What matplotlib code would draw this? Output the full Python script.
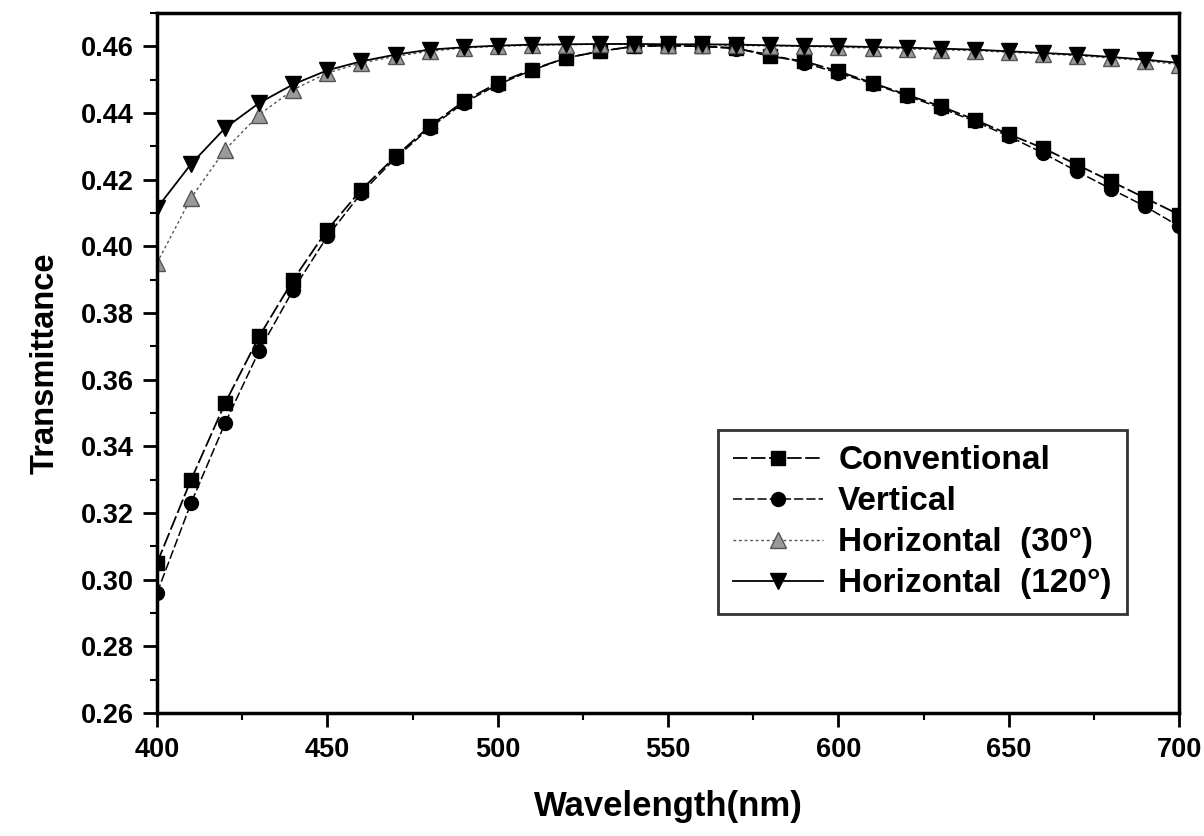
import matplotlib
matplotlib.use("Agg")
import matplotlib.pyplot as plt
from matplotlib.ticker import MultipleLocator, FormatStrFormatter

plt.rcParams['font.family'] = ['Liberation Sans', 'DejaVu Sans']

wavelength = [400, 410, 420, 430, 440, 450, 460, 470, 480, 490, 500,
              510, 520, 530, 540, 550, 560, 570, 580, 590, 600,
              610, 620, 630, 640, 650, 660, 670, 680, 690, 700]

conventional = [0.305, 0.330, 0.353, 0.373, 0.390, 0.405, 0.417, 0.427, 0.436, 0.4435, 0.449,
                0.453, 0.4565, 0.4585, 0.460, 0.4602, 0.460, 0.4595, 0.457, 0.4555, 0.4525,
                0.449, 0.4455, 0.442, 0.438, 0.4336, 0.4295, 0.4245, 0.4195, 0.4145, 0.4095]

vertical = [0.296, 0.323, 0.347, 0.3687, 0.387, 0.403, 0.416, 0.4265, 0.4355, 0.443, 0.4485,
            0.4528, 0.4565, 0.4585, 0.460, 0.4602, 0.460, 0.4593, 0.4575, 0.455, 0.452,
            0.4488, 0.4452, 0.4415, 0.4375, 0.433, 0.428, 0.4225, 0.4172, 0.412, 0.406]

horiz30 = [0.395, 0.4145, 0.429, 0.4395, 0.447, 0.452, 0.455, 0.457, 0.4585, 0.4595, 0.460,
           0.4603, 0.4605, 0.4606, 0.4606, 0.4605, 0.4605, 0.4603, 0.4601, 0.460, 0.4597,
           0.4595, 0.4592, 0.459, 0.4587, 0.4582, 0.4578, 0.4572, 0.4565, 0.4557, 0.4545]

horiz120 = [0.4115, 0.4247, 0.4355, 0.443, 0.4486, 0.4528, 0.4555, 0.4575, 0.459, 0.4597, 0.4602,
            0.4605, 0.4606, 0.4607, 0.4607, 0.4606, 0.4606, 0.4605, 0.4603, 0.4601, 0.460,
            0.4598, 0.4596, 0.4593, 0.459, 0.4585, 0.458, 0.4575, 0.4568, 0.456, 0.455]

fig = plt.figure(figsize=(12.04, 8.36), dpi=100)
ax = fig.add_axes([0.1304, 0.147, 0.849, 0.8375])

ax.plot(wavelength, conventional, color='black', lw=1.3, ls=(0, (8, 2)),
        marker='s', ms=10, label='Conventional')
ax.plot(wavelength, vertical, color='black', lw=1.1, ls=(0, (6, 2)),
        marker='o', ms=10, label='Vertical')
ax.plot(wavelength, horiz30, color='#555555', lw=1.0, ls=(0, (2, 2)),
        marker='^', ms=11, mfc='#9a9a9a', mec='#555555', label='Horizontal  (30°)')
ax.plot(wavelength, horiz120, color='black', lw=1.3, ls='-',
        marker='v', ms=11, label='Horizontal  (120°)')

ax.set_xlim(400, 700)
ax.set_ylim(0.26, 0.47)
ax.xaxis.set_major_locator(MultipleLocator(50))
ax.xaxis.set_minor_locator(MultipleLocator(25))
ax.yaxis.set_major_locator(MultipleLocator(0.02))
ax.yaxis.set_minor_locator(MultipleLocator(0.01))
ax.yaxis.set_major_formatter(FormatStrFormatter('%.2f'))

for s in ax.spines.values():
    s.set_linewidth(2.5)
ax.tick_params(which='major', direction='out', length=10, width=2, labelsize=19.5, pad=7)
ax.tick_params(which='minor', direction='out', length=5, width=1.5)
ax.tick_params(top=False, right=False)
for lab in ax.get_xticklabels() + ax.get_yticklabels():
    lab.set_fontweight('bold')

ax.set_xlabel('Wavelength(nm)', fontsize=25, fontweight='bold', labelpad=20)
ax.set_ylabel('Transmittance', fontsize=23.5, fontweight='bold', labelpad=14)

leg = ax.legend(loc='upper left', bbox_to_anchor=(0.549, 0.404),
                frameon=True, fancybox=False, edgecolor='black', handlelength=2.7,
                labelspacing=0.3, borderpad=0.45, handletextpad=0.45, borderaxespad=0,
                prop={'size': 24, 'weight': 'bold'})
leg.get_frame().set_linewidth(2)

fig.savefig('out.png', dpi=100)
